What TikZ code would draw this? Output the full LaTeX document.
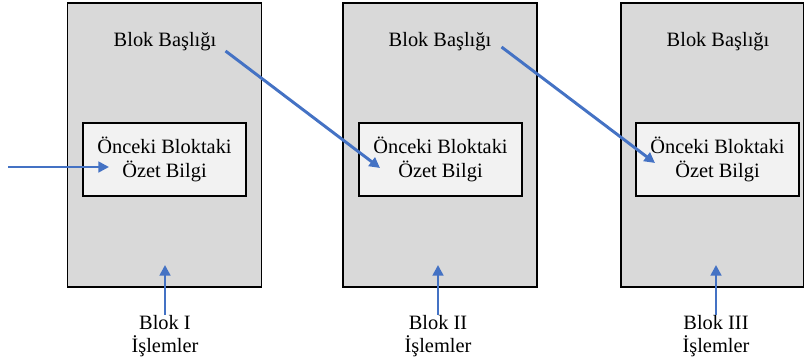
\documentclass[tikz,border=0pt]{standalone}
\usepackage{fontspec}
\setmainfont{Liberation Serif}
\usetikzlibrary{positioning,arrows.meta}
\definecolor{okmavi}{RGB}{68,114,196}
\definecolor{blokgri}{RGB}{217,217,217}
\definecolor{ozetgri}{RGB}{242,242,242}

\begin{document}
\begin{tikzpicture}[x=0.025cm,y=-0.025cm,
    font=\fontsize{14.5}{16.5}\selectfont,
    blok/.style={rectangle,draw=black,fill=blokgri,line width=1.3pt,
                 minimum width=4.85cm,minimum height=7.1cm,inner sep=0pt},
    ozet/.style={rectangle,draw=black,fill=ozetgri,line width=1.3pt,
                 minimum width=4.075cm,minimum height=1.825cm,align=center,inner sep=0pt},
    baslik/.style={inner sep=0pt},
    etiket/.style={align=center,inner sep=0pt},
    ok/.style={-{Triangle[length=7.5pt,width=7.5pt]},line width=2.1pt,draw=okmavi}]
  \useasboundingbox (0,0) rectangle (804,362);
  % bloklar
  \node[blok] (b1) at (164.5,145) {};
  \node[blok] (b2) at (440,145) {};
  \node[blok,minimum width=4.575cm] (b3) at (712.5,145) {};
  \node[ozet] (o1) at (164.5,159.5) {Önceki Bloktaki\\Özet Bilgi};
  \node[ozet] (o2) at (440.5,159.5) {Önceki Bloktaki\\Özet Bilgi};
  \node[ozet] (o3) at (717.5,159.5) {Önceki Bloktaki\\Özet Bilgi};
  \node[baslik] (h1) at (165,42) {Blok Başlığı};
  \node[baslik] (h2) at (440,42) {Blok Başlığı};
  \node[baslik] (h3) at (718,42) {Blok Başlığı};
  % islemler
  \node[etiket] (i1) at (165,336) {Blok I\\İşlemler};
  \node[etiket] (i2) at (438,336) {Blok II\\İşlemler};
  \node[etiket] (i3) at (716,336) {Blok III\\İşlemler};
  % oklar
  \coordinate (giris) at (8,167);
  \coordinate (g1) at (109,167);
  \coordinate (g2) at (380,168);
  \coordinate (g3) at (655,163);
  \draw[ok] (giris) -- (g1);
  \draw[ok] ([shift={(9,9)}]h1.east) -- (g2);
  \draw[ok] ([shift={(10,5)}]h2.east) -- (g3);
  \draw[ok] (i1.north) -- (165,265);
  \draw[ok] (i2.north) -- (438,265);
  \draw[ok] (i3.north) -- (716,265);
\end{tikzpicture}
\end{document}
